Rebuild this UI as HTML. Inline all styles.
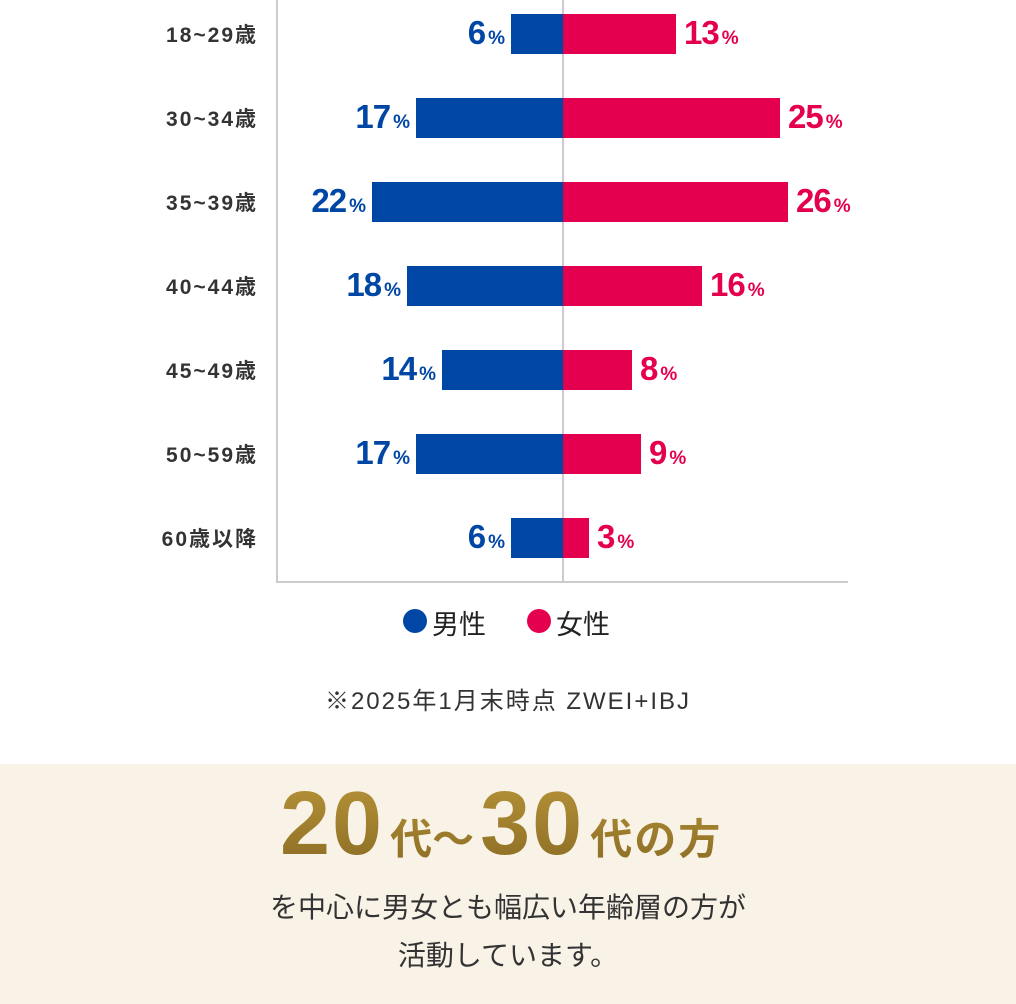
<!DOCTYPE html>
<html><head><meta charset="utf-8"><style>
body{margin:0;width:1016px;height:1004px;background:#fff;position:relative;overflow:hidden;font-family:"Liberation Sans","Noto Sans CJK JP",sans-serif;}
.a{position:absolute}
.lab{position:absolute;right:758px;font-size:21px;font-weight:bold;color:#333;letter-spacing:2px;transform:translateY(-50%);white-space:nowrap}
.bar{position:absolute;height:40px}
.m{background:#0047a5}.f{background:#e5004f}
.v{position:absolute;font-weight:bold;font-size:33px;transform:translateY(-52%);white-space:nowrap;letter-spacing:-1px}
.v small{font-size:19px;margin-left:3px;letter-spacing:0}
.vm{color:#0047a5}.vf{color:#e5004f}
.gold{background:linear-gradient(180deg,#b8953a,#7d5f1c);-webkit-background-clip:text;background-clip:text;color:transparent;font-weight:bold}
</style></head><body>
<div class="a" style="left:276px;top:0;width:2px;height:583px;background:#ccc"></div>
<div class="a" style="left:276px;top:581px;width:572px;height:2px;background:#ccc"></div>
<div class="a" style="left:562px;top:0;width:2px;height:581px;background:#ccc"></div>
<div id="rows"></div>
<script>
var d=[["18~29歳",6,13],["30~34歳",17,25],["35~39歳",22,26],["40~44歳",18,16],["45~49歳",14,8],["50~59歳",17,9],["60歳以降",6,3]];
var h="",s=8.67;
d.forEach(function(r,i){var c=34+84*i,wm=Math.round(r[1]*s),wf=Math.round(r[2]*s);
h+='<div class="lab" style="top:'+c+'px">'+r[0]+'</div>';
h+='<div class="bar m" style="left:'+(563-wm)+'px;top:'+(c-20)+'px;width:'+wm+'px"></div>';
h+='<div class="bar f" style="left:563px;top:'+(c-20)+'px;width:'+wf+'px"></div>';
h+='<div class="v vm" style="right:'+(1016-563+wm+6)+'px;top:'+c+'px">'+r[1]+'<small>%</small></div>';
h+='<div class="v vf" style="left:'+(563+wf+8)+'px;top:'+c+'px">'+r[2]+'<small>%</small></div>';});
document.getElementById("rows").innerHTML=h;
</script>
<div class="a" style="left:403px;top:609px;width:24px;height:24px;border-radius:50%;background:#0047a5"></div>
<div class="a" style="left:432px;top:603px;font-size:27px;color:#222">男性</div>
<div class="a" style="left:527px;top:609px;width:24px;height:24px;border-radius:50%;background:#e5004f"></div>
<div class="a" style="left:556px;top:603px;font-size:27px;color:#222">女性</div>
<div class="a" style="left:0;width:1016px;top:681px;text-align:center;font-size:24px;letter-spacing:2px;color:#333">※2025年1月末時点 ZWEI+IBJ</div>
<div class="a" style="left:0;top:764px;width:1016px;height:240px;background:#f9f3e7"></div>
<div class="a gold" style="left:280px;top:774px;white-space:nowrap;line-height:100px">
<span style="font-size:90px;letter-spacing:2px">20</span><span style="font-size:42px;margin:0 6px">代～</span><span style="font-size:90px;letter-spacing:2px">30</span><span style="font-size:42px;margin-left:6px;letter-spacing:2px">代の方</span></div>
<div class="a" style="left:0;width:1016px;top:884px;text-align:center;font-size:28px;color:#333;line-height:48px">を中心に男女とも幅広い年齢層の方が<br>活動しています。</div>
</body></html>
